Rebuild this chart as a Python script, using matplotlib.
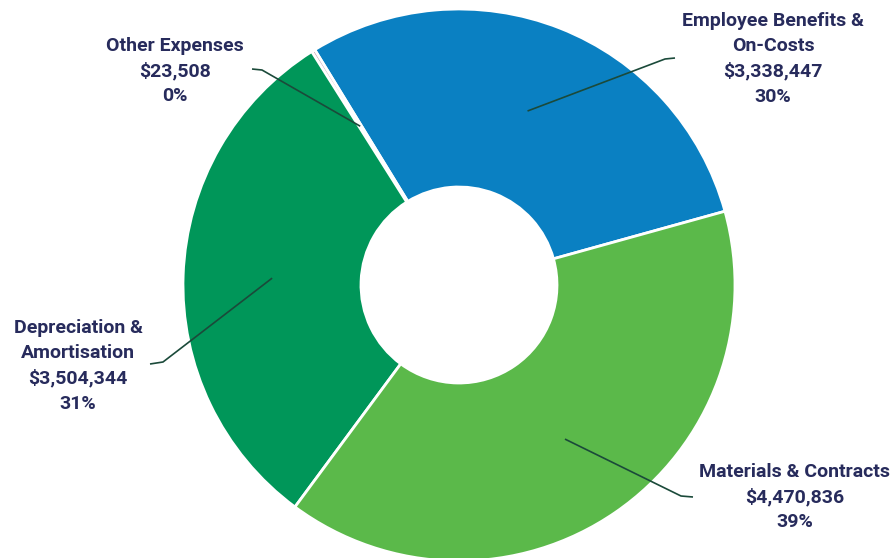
import numpy as np
import matplotlib.pyplot as plt

# expense categories (order follows the ring counter-clockwise from the right)
categories = ['Employee Benefits &\nOn-Costs', 'Other Expenses',
              'Depreciation &\nAmortisation', 'Materials & Contracts']
amounts = [3338447, 23508, 3504344, 4470836]
pct_labels = ['30%', '0%', '31%', '39%']
colors = ['#0A80C2', '#C9A3B4', '#009659', '#5BB94A']

# label block centre (px) and leader elbow/end points (px), image coords
label_pos = [(773, 59), (175, 71), (78, 366), (795, 497)]
elbows = [[(665, 59), (675, 58)], [(262, 70), (252, 69)],
          [(163, 362), (150, 364)], [(681, 496), (693, 497)]]

W, H = 895, 558
text_color = '#272B5C'
line_color = '#1B4A3A'

fig = plt.figure(figsize=(W / 100, H / 100), dpi=100)
ax = fig.add_axes([0, 0, 1, 1])

cx, cy = 459, H - 285
R, r = 276, 98
wedges, _ = ax.pie(amounts, colors=colors, center=(cx, cy), radius=R,
                   startangle=15.5, counterclock=True,
                   wedgeprops=dict(width=R - r, edgecolor='white', linewidth=2))

for w, cat, amt, pct, (lx, ly), pts in zip(wedges, categories, amounts, pct_labels,
                                            label_pos, elbows):
    mid = np.deg2rad((w.theta1 + w.theta2) / 2)
    rm = (R + r) / 2
    ax_x, ax_y = cx + rm * np.cos(mid), cy + rm * np.sin(mid)
    xs = [ax_x] + [p[0] for p in pts]
    ys = [ax_y] + [H - p[1] for p in pts]
    ax.plot(xs, ys, color=line_color, lw=1.2, solid_capstyle='butt')
    txt = f"{cat}\n${amt:,}\n{pct}"
    ax.text(lx, H - ly, txt, ha='center', va='center', fontsize=14,
            fontweight='bold', color=text_color, family=['Roboto', 'DejaVu Sans'],
            linespacing=1.5)

ax.set_xlim(0, W)
ax.set_ylim(0, H)
ax.set_aspect('auto')
ax.axis('off')

fig.savefig('out.png', dpi=100)
